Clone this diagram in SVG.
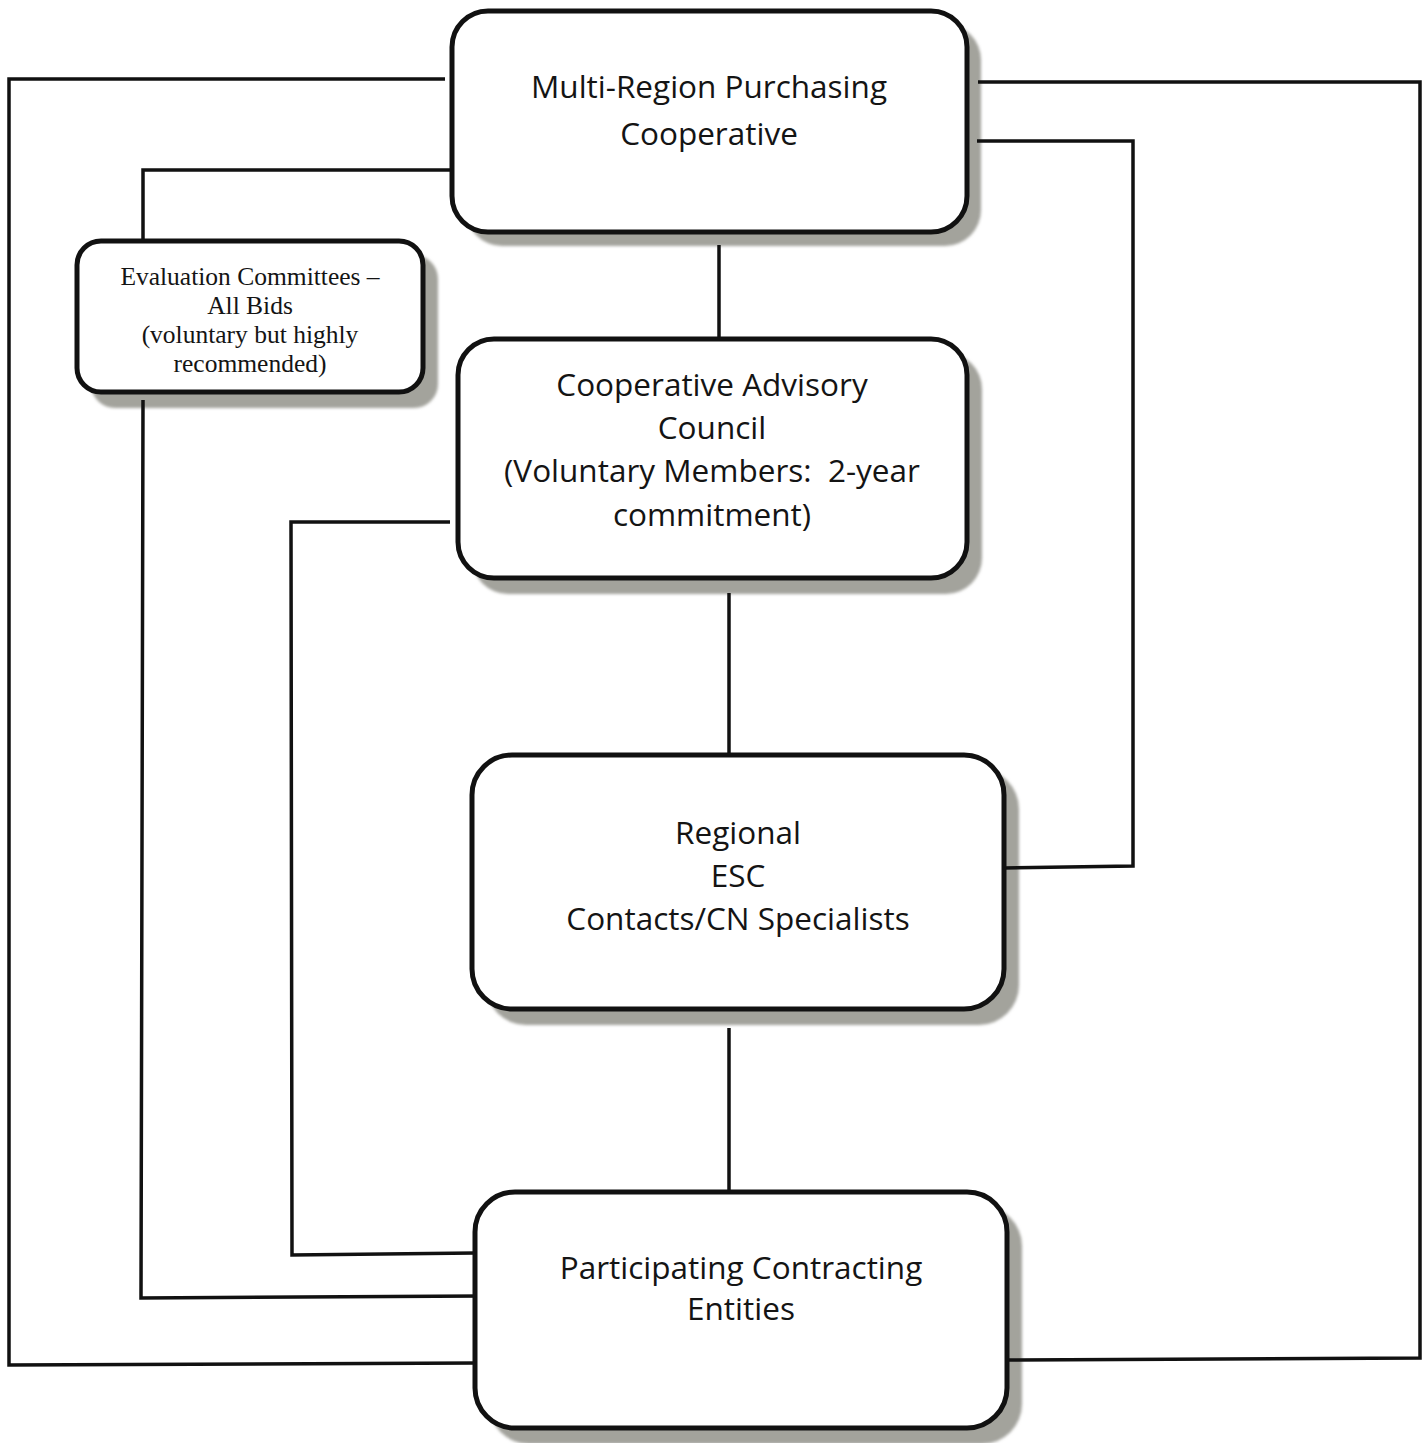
<svg xmlns="http://www.w3.org/2000/svg" width="1425" height="1443" viewBox="0 0 1425 1443">
<defs>
<filter id="soft" x="-5%" y="-5%" width="110%" height="110%"><feGaussianBlur stdDeviation="1.5"/></filter>
</defs>
<style>
.shadow{fill:#a3a39c;filter:url(#soft)}
.box{fill:#ffffff;stroke:#111111;stroke-width:5}
.wire{fill:none;stroke:#111111;stroke-width:3.5;stroke-linejoin:miter}
.sans{font-family:"Open Sans","Noto Sans","Liberation Sans",sans-serif;font-size:31.5px;fill:#141414;text-anchor:middle}
.serif{font-family:"Liberation Serif","DejaVu Serif",serif;font-size:25.5px;fill:#141414;text-anchor:middle}
</style>
<rect width="1425" height="1443" fill="#ffffff"/>
<g id="shadows">
<rect class="shadow" x="466" y="24" width="515" height="222" rx="36"/>
<rect class="shadow" x="91" y="255" width="347" height="153" rx="24"/>
<rect class="shadow" x="472" y="353" width="510" height="241" rx="36"/>
<rect class="shadow" x="486" y="769" width="533" height="256" rx="40"/>
<rect class="shadow" x="489" y="1206" width="533" height="238" rx="40"/>
</g>
<g id="connectors">
<polyline class="wire" points="445,79 9,79 9,1365 477,1363"/>
<polyline class="wire" points="978,82 1420,82 1420,1358 1007,1360"/>
<polyline class="wire" points="452,170 143,170 143,241"/>
<polyline class="wire" points="143,400 141,1298 481,1296"/>
<polyline class="wire" points="450,522 291,522 292,1255 475,1253"/>
<polyline class="wire" points="977,141 1133,141 1133,866 1004,868"/>
<line class="wire" x1="719" y1="245" x2="719" y2="339"/>
<line class="wire" x1="729" y1="593" x2="729" y2="754"/>
<line class="wire" x1="729" y1="1028" x2="729" y2="1192"/>
</g>
<g id="node-multi-region">
<rect class="box" x="452" y="11" width="515" height="221" rx="36"/>
<text class="sans" x="709" y="98">Multi-Region Purchasing</text>
<text class="sans" x="709" y="145">Cooperative</text>
</g>
<g id="node-evaluation">
<rect class="box" x="77" y="241" width="346" height="151" rx="24"/>
<text class="serif" x="250" y="285">Evaluation Committees –</text>
<text class="serif" x="250" y="314">All Bids</text>
<text class="serif" x="250" y="343">(voluntary but highly</text>
<text class="serif" x="250" y="372">recommended)</text>
</g>
<g id="node-advisory">
<rect class="box" x="458" y="339" width="509" height="239" rx="36"/>
<text class="sans" x="712" y="396">Cooperative Advisory</text>
<text class="sans" x="712" y="439">Council</text>
<text class="sans" x="712" y="482" xml:space="preserve">(Voluntary Members:  2-year</text>
<text class="sans" x="712" y="526">commitment)</text>
</g>
<g id="node-regional">
<rect class="box" x="472" y="755" width="532" height="254" rx="40"/>
<text class="sans" x="738" y="844">Regional</text>
<text class="sans" x="738" y="887">ESC</text>
<text class="sans" x="738" y="930">Contacts/CN Specialists</text>
</g>
<g id="node-participating">
<rect class="box" x="475" y="1192" width="532" height="236" rx="40"/>
<text class="sans" x="741" y="1279">Participating Contracting</text>
<text class="sans" x="741" y="1320">Entities</text>
</g>
</svg>
